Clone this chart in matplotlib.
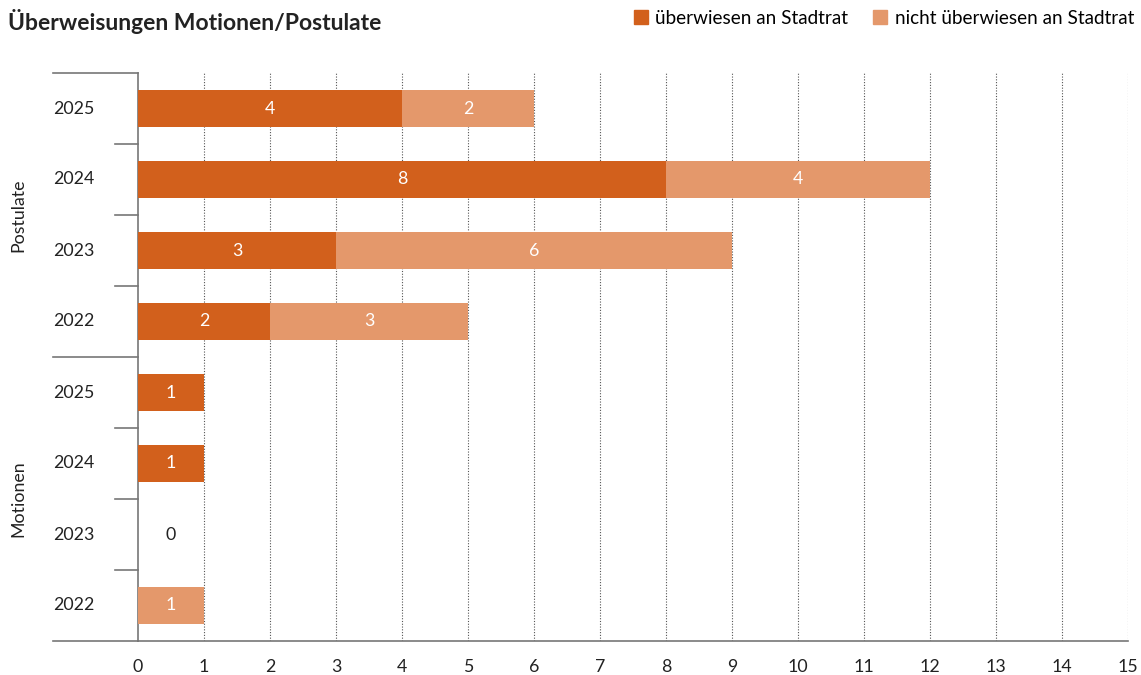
import matplotlib
matplotlib.use("Agg")
import matplotlib.pyplot as plt
from matplotlib.patches import Patch
import matplotlib.transforms as mtransforms

plt.rcParams["font.family"] = ["Lato", "DejaVu Sans"]

# data (top to bottom)
groups = ["Postulate", "Motionen"]
years = ["2025", "2024", "2023", "2022"]
ueberwiesen = [4, 8, 3, 2, 1, 1, 0, 0]
nicht_ueberwiesen = [2, 4, 6, 3, 0, 0, 0, 1]
series_names = ["überwiesen an Stadtrat", "nicht überwiesen an Stadtrat"]
title = "Überweisungen Motionen/Postulate"

DARK = "#D2601C"
LIGHT = "#E4986B"
TXT = "#222222"
GRAY = "#777777"
FS = 12.8

fig = plt.figure(figsize=(11.41, 6.75), dpi=100)
ax = fig.add_axes([138 / 1141, 1 - 641 / 675, 990 / 1141, 568 / 675])

n = len(ueberwiesen)
ypos = [n - 1 - i for i in range(n)]
h = 0.535
ax.barh(ypos, ueberwiesen, height=h, color=DARK, zorder=3)
ax.barh(ypos, nicht_ueberwiesen, left=ueberwiesen, height=h, color=LIGHT, zorder=3)

for y, a, b in zip(ypos, ueberwiesen, nicht_ueberwiesen):
    if a > 0:
        ax.text(a / 2, y, str(a), ha="center", va="center", color="white", fontsize=FS, zorder=4)
    if b > 0:
        ax.text(a + b / 2, y, str(b), ha="center", va="center", color="white", fontsize=FS, zorder=4)
    if a + b == 0:
        ax.text(0.5, y, "0", ha="center", va="center", color=TXT, fontsize=FS, zorder=4)

ax.set_xlim(0, 15)
ax.set_ylim(-0.5, n - 0.5)
ax.set_xticks(range(0, 16))
ax.tick_params(axis="x", length=0, labelsize=FS, colors=TXT, pad=13)
ax.set_yticks([])
for x in range(1, 16):
    ax.axvline(x, color="#555555", lw=0.8, ls=(0, (1, 1.5)), zorder=1)

for s in ["top", "right"]:
    ax.spines[s].set_visible(False)
ax.spines["left"].set_color(GRAY)
ax.spines["bottom"].set_color(GRAY)
ax.spines["left"].set_linewidth(1.2)
ax.spines["bottom"].set_linewidth(1.2)

trans = mtransforms.blended_transform_factory(ax.transAxes, ax.transData)
# separators between categories, longer ones between groups
for k in range(n + 1):
    y = n - 0.5 - k
    x0 = -85 / 990 if k % 4 == 0 else -23 / 990
    ax.plot([x0, 0], [y, y], transform=trans, color=GRAY, lw=1.2, clip_on=False)

# year labels and group labels
for i, y in enumerate(ypos):
    ax.text(-85 / 990, y, years[i % 4], transform=trans, ha="left", va="center",
            fontsize=FS, color=TXT)
for g, name in enumerate(groups):
    yc = n - 1 - (g * 4 + 1.5)
    ax.text(-120 / 990, yc, name, transform=trans, ha="center", va="center",
            rotation=90, fontsize=FS, color=TXT)

fig.text(8 / 1141, 1 - 21 / 675, title, fontsize=16.5, fontweight="bold",
         color=TXT, ha="left", va="center")

handles = [Patch(color=DARK), Patch(color=LIGHT)]
fig.legend(handles, series_names, loc="center right", bbox_to_anchor=(1134 / 1141, 1 - 18 / 675),
           ncol=2, frameon=False, fontsize=13.6, handlelength=0.75, handleheight=0.75,
           handletextpad=0.4, columnspacing=1.3, borderaxespad=0, borderpad=0)

fig.savefig("out.png", dpi=100)
